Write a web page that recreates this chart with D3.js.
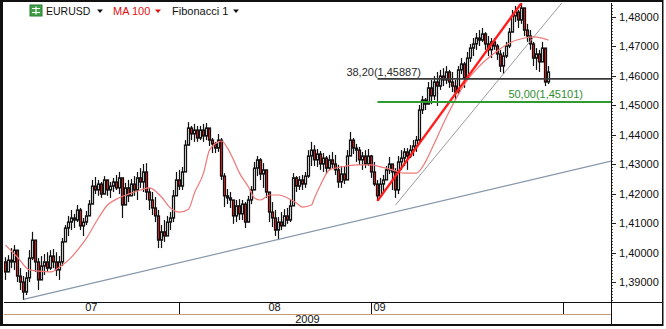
<!DOCTYPE html>
<html><head><meta charset="utf-8">
<script src="https://cdn.jsdelivr.net/npm/d3@7"></script>
<style>body{margin:0;background:#fff}svg{display:block}text{font-family:"Liberation Sans",Arial,sans-serif}</style>
</head><body><svg id="c" width="666" height="329"></svg>
<script>
const firstOpen = 1.3968;
const closes = [1.3934,1.3974,1.3968,1.4008,1.3920,1.3900,1.3866,1.3914,1.3981,1.4042,
1.3968,1.3907,1.3954,1.3968,1.3947,1.3988,1.3968,1.3941,1.3968,1.4036,
1.4083,1.4103,1.4117,1.4110,1.4144,1.4090,1.4103,1.4124,1.4164,1.4225,
1.4212,1.4232,1.4198,1.4246,1.4212,1.4225,1.4239,1.4219,1.4253,1.4161,
1.4219,1.4192,1.4232,1.4212,1.4253,1.4239,1.4273,1.4205,1.4178,1.4151,
1.4124,1.4042,1.4070,1.4056,1.4103,1.4117,1.4192,1.4246,1.4225,1.4273,
1.4364,1.4422,1.4402,1.4415,1.4388,1.4415,1.4395,1.4422,1.4381,1.4368,
1.4354,1.4381,1.4259,1.4192,1.4185,1.4178,1.4124,1.4158,1.4131,1.4164,
1.4103,1.4178,1.4212,1.4286,1.4314,1.4266,1.4280,1.4205,1.4137,1.4117,
1.4076,1.4103,1.4090,1.4124,1.4110,1.4158,1.4253,1.4225,1.4246,1.4232,
1.4259,1.4327,1.4347,1.4314,1.4334,1.4300,1.4320,1.4286,1.4314,1.4300,
1.4280,1.4239,1.4266,1.4246,1.4327,1.4381,1.4354,1.4347,1.4314,1.4327,
1.4300,1.4327,1.4273,1.4232,1.4192,1.4232,1.4246,1.4280,1.4300,1.4273,
1.4212,1.4307,1.4320,1.4341,1.4327,1.4347,1.4361,1.4381,1.4483,1.4517,
1.4503,1.4558,1.4531,1.4578,1.4564,1.4598,1.4585,1.4612,1.4578,1.4564,
1.4544,1.4619,1.4639,1.4592,1.4659,1.4693,1.4707,1.4727,1.4720,1.4741,
1.4707,1.4687,1.4714,1.4700,1.4673,1.4632,1.4666,1.4700,1.4747,1.4802,
1.4815,1.4788,1.4829,1.4754,1.4734,1.4707,1.4659,1.4673,1.4646,1.4693,
1.4578,1.4612];
const highs = [1.3984,1.3991,1.4015,1.4025,1.3981,1.3947,1.3920,1.3934,1.4008,1.4070,
1.4032,1.3981,1.3988,1.3995,1.4001,1.4008,1.4012,1.4001,1.3988,1.4049,
1.4093,1.4124,1.4144,1.4131,1.4161,1.4151,1.4117,1.4141,1.4178,1.4246,
1.4256,1.4246,1.4239,1.4259,1.4246,1.4239,1.4253,1.4263,1.4273,1.4239,
1.4236,1.4246,1.4249,1.4259,1.4273,1.4286,1.4300,1.4303,1.4219,1.4205,
1.4188,1.4144,1.4093,1.4110,1.4124,1.4137,1.4212,1.4273,1.4280,1.4290,
1.4381,1.4442,1.4429,1.4436,1.4429,1.4429,1.4436,1.4439,1.4415,1.4388,
1.4375,1.4402,1.4388,1.4269,1.4215,1.4205,1.4178,1.4178,1.4181,1.4178,
1.4171,1.4192,1.4225,1.4307,1.4327,1.4320,1.4303,1.4263,1.4195,1.4171,
1.4144,1.4120,1.4137,1.4147,1.4151,1.4178,1.4269,1.4259,1.4259,1.4263,
1.4273,1.4347,1.4375,1.4364,1.4351,1.4344,1.4337,1.4327,1.4331,1.4341,
1.4331,1.4297,1.4293,1.4293,1.4347,1.4409,1.4388,1.4368,1.4358,1.4341,
1.4347,1.4351,1.4331,1.4307,1.4246,1.4253,1.4263,1.4293,1.4324,1.4297,
1.4286,1.4327,1.4347,1.4354,1.4354,1.4364,1.4381,1.4395,1.4500,1.4531,
1.4524,1.4578,1.4585,1.4598,1.4612,1.4619,1.4625,1.4632,1.4619,1.4612,
1.4585,1.4632,1.4659,1.4646,1.4680,1.4707,1.4727,1.4744,1.4754,1.4761,
1.4747,1.4734,1.4727,1.4727,1.4707,1.4687,1.4680,1.4714,1.4761,1.4822,
1.4836,1.4822,1.4846,1.4815,1.4775,1.4754,1.4714,1.4693,1.4687,1.4714,
1.4659,1.4632];
const lows = [1.3907,1.3934,1.3947,1.3941,1.3900,1.3873,1.3839,1.3856,1.3900,1.3974,
1.3934,1.3873,1.3907,1.3924,1.3934,1.3941,1.3947,1.3920,1.3907,1.3954,
1.4036,1.4056,1.4076,1.4083,1.4103,1.4076,1.4056,1.4093,1.4127,1.4178,
1.4198,1.4192,1.4185,1.4205,1.4192,1.4185,1.4205,1.4212,1.4198,1.4117,
1.4161,1.4171,1.4198,1.4192,1.4178,1.4219,1.4205,1.4178,1.4144,1.4127,
1.4103,1.4015,1.4015,1.4036,1.4063,1.4076,1.4103,1.4205,1.4212,1.4212,
1.4286,1.4371,1.4381,1.4375,1.4375,1.4381,1.4375,1.4381,1.4361,1.4337,
1.4337,1.4341,1.4246,1.4154,1.4164,1.4151,1.4097,1.4103,1.4110,1.4110,
1.4083,1.4103,1.4164,1.4212,1.4259,1.4246,1.4219,1.4185,1.4103,1.4086,
1.4056,1.4042,1.4076,1.4090,1.4097,1.4103,1.4171,1.4205,1.4212,1.4212,
1.4219,1.4253,1.4293,1.4293,1.4290,1.4280,1.4273,1.4266,1.4280,1.4286,
1.4263,1.4219,1.4219,1.4232,1.4246,1.4331,1.4334,1.4307,1.4297,1.4280,
1.4286,1.4293,1.4253,1.4225,1.4175,1.4192,1.4205,1.4246,1.4266,1.4212,
1.4185,1.4198,1.4280,1.4293,1.4280,1.4320,1.4327,1.4341,1.4375,1.4469,
1.4483,1.4510,1.4503,1.4517,1.4497,1.4551,1.4564,1.4571,1.4558,1.4544,
1.4517,1.4537,1.4605,1.4558,1.4585,1.4646,1.4666,1.4687,1.4700,1.4714,
1.4687,1.4666,1.4659,1.4687,1.4653,1.4612,1.4605,1.4659,1.4693,1.4747,
1.4781,1.4761,1.4775,1.4734,1.4714,1.4687,1.4632,1.4619,1.4612,1.4646,
1.4564,1.4571];
const maBars = [0,4,8,11,15,18,21,24,27,31,34,37,41,45,48,52,55,58,61,63,66,68,71,72,74,76,78,81,83,85,88,91,94,97,99,102,103,105,108,112,117,122,125,129,133,137,139,143,147,154,158,163,168,173,176,181];
const maValues = [1.4025,1.3984,1.3941,1.3937,1.3934,1.3951,1.3974,1.4008,1.4049,1.4117,1.4161,1.4181,1.4198,1.4212,1.4219,1.4188,1.4151,1.4137,1.4147,1.4202,1.4269,1.4347,1.4375,1.4378,1.4354,1.4314,1.4269,1.4222,1.4185,1.4178,1.4195,1.4195,1.4185,1.4168,1.4154,1.4161,1.4185,1.4229,1.4280,1.4290,1.4297,1.4297,1.4290,1.4280,1.4269,1.4269,1.4290,1.4371,1.4459,1.4585,1.4632,1.4676,1.4710,1.4727,1.4731,1.4720];
const yTicks = [1.39,1.40,1.41,1.42,1.43,1.44,1.45,1.46,1.47,1.48];
const monthLabels = ["07","08","09"];
const monthStartBars = [58,122,186];
const yearLabel = "2009";
const fibNames = ["38,20","50,00"];
const fibValues = [1.45887,1.45101];
const fibStartBar = 124;
const redTrendBars = [124,172], redTrendPrices = [1.4175,1.4846];
const grayTrendBars = [130,172], grayTrendPrices = [1.4161,1.4680];
const longTrendBars = [6,181], longTrendPrices = [1.3841,1.4260];
const legendNames = ["EURUSD","MA 100","Fibonacci 1"];

const svg = d3.select("#c");
const L = 4, R = 611, T = 3, B = 302;
const x = d3.scaleLinear().domain([0, closes.length-1]).range([5.5, 548.5]);
const y = d3.scaleLinear().domain([1.39,1.48]).range([282,16.5]);

svg.append("rect").attr("width",666).attr("height",329).attr("fill","#fff");
svg.append("defs").append("clipPath").attr("id","pc").append("rect")
  .attr("x",L).attr("y",T).attr("width",R-L).attr("height",B-T);
const g = svg.append("g").attr("clip-path","url(#pc)");

// candles
const candles = closes.map((c,i)=>{const o = i ? closes[i-1] : firstOpen;
  return {i,o,c,h:Math.max(highs[i],o,c),l:Math.min(lows[i],o,c)};});
g.selectAll(".wick").data(candles).join("line").attr("class","wick")
  .attr("x1",d=>x(d.i)).attr("x2",d=>x(d.i)).attr("y1",d=>y(d.h)).attr("y2",d=>y(d.l))
  .attr("stroke","#111").attr("stroke-width",1.2);
g.selectAll(".body").data(candles).join("rect").attr("class","body")
  .attr("x",d=>x(d.i)-1).attr("width",2)
  .attr("y",d=>Math.min(y(d.o),y(d.c)))
  .attr("height",d=>Math.max(1,Math.abs(y(d.o)-y(d.c))))
  .attr("fill",d=>d.c<d.o?"#ff2020":"#ffffff").attr("stroke","#111").attr("stroke-width",1.25);

// MA
const maPts = maBars.map((b,k)=>[x(b),y(maValues[k])]);
g.append("path").attr("d",d3.line().curve(d3.curveMonotoneX)(maPts))
  .attr("fill","none").attr("stroke","#f07878").attr("stroke-width",1.2);

function extLine(bars,prices,xEnd){
  const x1=x(bars[0]),y1=y(prices[0]),x2=x(bars[1]),y2=y(prices[1]);
  return [[x1,y1],[xEnd,y1+(y2-y1)*(xEnd-x1)/(x2-x1)]];
}
const lt = extLine(longTrendBars,longTrendPrices,R);
g.append("line").attr("x1",lt[0][0]).attr("y1",lt[0][1]).attr("x2",lt[1][0]).attr("y2",lt[1][1])
  .attr("stroke","#8797aa").attr("stroke-width",1.2);
const gt = extLine(grayTrendBars,grayTrendPrices,R);
g.append("line").attr("x1",gt[0][0]).attr("y1",gt[0][1]).attr("x2",gt[1][0]).attr("y2",gt[1][1])
  .attr("stroke","#9a9a9a").attr("stroke-width",1);
g.append("line").attr("x1",x(redTrendBars[0])).attr("y1",y(redTrendPrices[0]))
  .attr("x2",x(redTrendBars[1])).attr("y2",y(redTrendPrices[1]))
  .attr("stroke","#ff1c1c").attr("stroke-width",2.4);

const fibColors = ["#3a3a3a","#2f9a2f"];
fibValues.forEach((v,k)=>{
  g.append("line").attr("x1",x(fibStartBar)).attr("x2",R).attr("y1",y(v)).attr("y2",y(v))
    .attr("stroke",fibColors[k]).attr("stroke-width",1.8);
});
const fmt5 = v=>d3.format(".5f")(v).replace(".",",");
svg.append("text").attr("x",421).attr("y",y(fibValues[0])-3).attr("text-anchor","end")
  .attr("font-size",11).attr("fill","#2a2a2a").text(fibNames[0]+"("+fmt5(fibValues[0])+")");
svg.append("text").attr("x",583).attr("y",y(fibValues[1])-4).attr("text-anchor","end")
  .attr("font-size",11).attr("fill","#2f8f2f").text(fibNames[1]+"("+fmt5(fibValues[1])+")");

// right axis
const minor = d3.range(1384,1485,1).map(v=>v/1000);
svg.selectAll(".mt").data(minor).join("line").attr("class","mt")
  .attr("x1",R).attr("x2",R+2).attr("y1",d=>Math.round(y(d))+0.5).attr("y2",d=>Math.round(y(d))+0.5)
  .attr("stroke","#555").attr("stroke-width",1);
svg.selectAll(".Mt").data(yTicks).join("line").attr("class","Mt")
  .attr("x1",R).attr("x2",R+5).attr("y1",d=>Math.round(y(d))+0.5).attr("y2",d=>Math.round(y(d))+0.5)
  .attr("stroke","#222").attr("stroke-width",1);
svg.selectAll(".yl").data(yTicks).join("text").attr("class","yl")
  .attr("x",619).attr("y",d=>y(d)+4).attr("font-size",11).attr("fill","#111")
  .text(d=>fmt5(d));

// frame & date axis
const ln=(x1,y1,x2,y2,c,w)=>svg.append("line").attr("x1",x1).attr("y1",y1).attr("x2",x2).attr("y2",y2).attr("stroke",c).attr("stroke-width",w);
ln(R+0.5,T,R+0.5,324,"#111",1);
ln(L,B+0.5,663,B+0.5,"#111",1);
ln(L,314.5,R,314.5,"#c99a7a",1);
const bounds = [L, ...monthStartBars.map(b=>x(b)-1)];
monthStartBars.forEach(b=>ln(Math.round(x(b))-0.5,B,Math.round(x(b))-0.5,314,"#111",1));
monthLabels.forEach((m,k)=>{
  const t = svg.append("text").attr("y",311).attr("font-size",11).attr("fill","#111").text(m);
  if(k<2) t.attr("x",(bounds[k]+bounds[k+1])/2).attr("text-anchor","middle");
  else t.attr("x",bounds[k]+3);
});
svg.append("text").attr("x",(L+R)/2).attr("y",323).attr("text-anchor","middle")
  .attr("font-size",11).attr("fill","#111").text(yearLabel);
svg.append("rect").attr("x",0).attr("y",0).attr("width",3).attr("height",326).attr("fill","#111");
svg.append("rect").attr("x",0).attr("y",0).attr("width",663).attr("height",2).attr("fill","#111");
svg.append("rect").attr("x",662).attr("y",0).attr("width",1.5).attr("height",326).attr("fill","#111");
svg.append("rect").attr("x",0).attr("y",324).attr("width",663).attr("height",2).attr("fill","#111");

// legend
const lg = svg.append("g");
lg.append("rect").attr("x",30).attr("y",5).attr("width",12).attr("height",11).attr("fill","#3f9f48").attr("stroke","#2d7a35");
lg.append("path").attr("d","M32 8.5h8M32 12.5h8M36 6.5v8").attr("stroke","#fff").attr("stroke-width",1.2);
const lgX = [46,113,172], lgC = ["#111","#e01010","#111"], triX = [100,158,236], lgS = [10.5,11,11];
legendNames.forEach((n,k)=>{
  lg.append("text").attr("x",lgX[k]).attr("y",15).attr("font-size",lgS[k]).attr("fill",lgC[k]).text(n);
  lg.append("path").attr("d",`M${triX[k]-3} 9.5h6l-3 3.5z`).attr("fill",lgC[k]);
});
</script></body></html>
